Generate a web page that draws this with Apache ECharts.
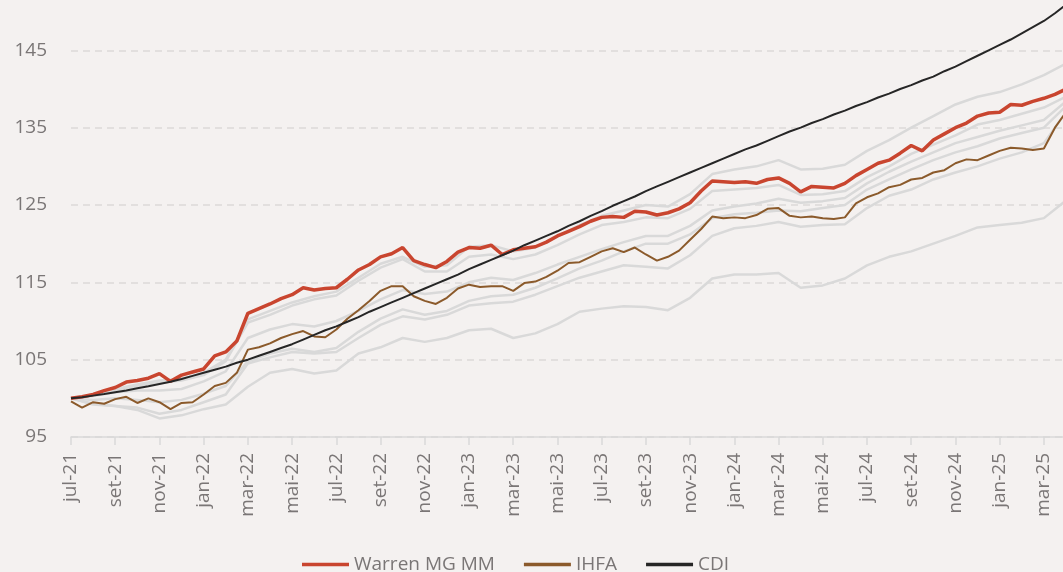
<!DOCTYPE html>
<html>
<head>
<meta charset="utf-8">
<script src="https://cdn.jsdelivr.net/npm/echarts@6/dist/echarts.min.js"></script>
<style>
  html, body { margin: 0; padding: 0; background: #f4f1f0; }
  #chart { width: 1063px; height: 572px; }
</style>
</head>
<body>
<div id="chart"></div>
<script>
// x axis: half-month steps from jul-21, labelled every 2 months
var tickLabels = ['jul-21', 'set-21', 'nov-21', 'jan-22', 'mar-22', 'mai-22', 'jul-22', 'set-22', 'nov-22',
    'jan-23', 'mar-23', 'mai-23', 'jul-23', 'set-23', 'nov-23', 'jan-24', 'mar-24', 'mai-24', 'jul-24',
    'set-24', 'nov-24', 'jan-25', 'mar-25'];

var categories = [];
for (var i = 0; i <= 90; i++) {
    var m = 6 + Math.floor(i / 2);
    var y = 2021 + Math.floor(m / 12);
    var mm = (m % 12) + 1;
    categories.push(y + '-' + (mm < 10 ? '0' : '') + mm + (i % 2 ? '-16' : '-01'));
}

var warren = [100.0, 100.2, 100.5, 101.0, 101.4, 102.1, 102.3, 102.6, 103.2, 102.2,
    103.0, 103.4, 103.8, 105.5, 106.0, 107.4, 111.0, 111.6, 112.2, 112.9,
    113.4, 114.3, 114.0, 114.2, 114.3, 115.4, 116.6, 117.3, 118.3, 118.7,
    119.5, 117.8, 117.3, 116.9, 117.7, 118.9, 119.5, 119.4, 119.8, 118.6,
    119.2, 119.4, 119.6, 120.2, 121.0, 121.6, 122.2, 122.9, 123.4, 123.5,
    123.4, 124.2, 124.1, 123.7, 124.0, 124.5, 125.3, 126.8, 128.1, 128.0,
    127.9, 128.0, 127.8, 128.3, 128.5, 127.8, 126.7, 127.4, 127.3, 127.2,
    127.8, 128.8, 129.6, 130.4, 130.8, 131.7, 132.7, 132.0, 133.4, 134.2,
    135.0, 135.6, 136.5, 136.9, 137.0, 138.0, 137.9, 138.4, 138.8, 139.3,
    140.0];

var ihfa = [99.6, 98.8, 99.5, 99.3, 99.9, 100.2, 99.4, 100.0, 99.5, 98.6,
    99.4, 99.5, 100.5, 101.6, 102.0, 103.3, 106.3, 106.6, 107.1, 107.8,
    108.3, 108.7, 108.0, 107.9, 108.9, 110.3, 111.4, 112.6, 113.9, 114.5,
    114.5, 113.2, 112.6, 112.2, 113.0, 114.2, 114.7, 114.4, 114.5, 114.5,
    113.9, 114.9, 115.1, 115.7, 116.5, 117.5, 117.6, 118.3, 119.0, 119.4,
    118.9, 119.5, 118.6, 117.8, 118.3, 119.1, 120.5, 121.9, 123.5, 123.3,
    123.4, 123.3, 123.7, 124.5, 124.6, 123.6, 123.4, 123.5, 123.3, 123.2,
    123.4, 125.2, 126.0, 126.5, 127.3, 127.6, 128.3, 128.5, 129.2, 129.5,
    130.4, 130.9, 130.8, 131.4, 132.0, 132.4, 132.3, 132.1, 132.3, 135.0,
    137.0];

var cdi = [100.0, 100.15, 100.35, 100.55, 100.8, 101.0, 101.3, 101.55, 101.85, 102.15,
    102.5, 102.9, 103.3, 103.7, 104.1, 104.6, 105.0, 105.5, 106.0, 106.5,
    107.0, 107.6, 108.2, 108.8, 109.3, 109.9, 110.5, 111.2, 111.8, 112.4,
    113.0, 113.6, 114.2, 114.8, 115.4, 116.0, 116.7, 117.3, 117.9, 118.5,
    119.1, 119.8, 120.4, 121.0, 121.6, 122.3, 122.9, 123.6, 124.2, 124.9,
    125.5, 126.1, 126.8, 127.4, 128.0, 128.6, 129.2, 129.8, 130.4, 131.0,
    131.6, 132.2, 132.7, 133.3, 133.9, 134.5, 135.0, 135.6, 136.1, 136.7,
    137.2, 137.8, 138.3, 138.9, 139.4, 140.0, 140.5, 141.1, 141.6, 142.3,
    142.9, 143.6, 144.3, 145.0, 145.7, 146.4, 147.2, 148.0, 148.8, 149.8,
    150.9];

// peer funds, one value per month (every second category)
var peer1 = [100.0, 99.3, 99.0, 98.5, 97.4, 97.8, 98.6, 99.2, 101.5, 103.3,
    103.8, 103.2, 103.6, 105.8, 106.6, 107.8, 107.3, 107.8, 108.8, 109.0,
    107.8, 108.4, 109.6, 111.2, 111.6, 111.9, 111.8, 111.4, 113.0, 115.5,
    116.0, 116.0, 116.2, 114.3, 114.6, 115.5, 117.2, 118.3, 119.0, 120.0,
    121.0, 122.1, 122.4, 122.7, 123.3, 125.6];
var peer2 = [100.0, 99.2, 99.0, 98.8, 98.0, 98.5, 99.5, 100.5, 104.5, 105.3,
    106.0, 105.8, 106.0, 107.8, 109.5, 110.6, 110.2, 110.8, 112.0, 112.3,
    112.5, 113.4, 114.5, 115.6, 116.4, 117.2, 117.0, 116.8, 118.5, 121.0,
    122.0, 122.3, 122.8, 122.2, 122.4, 122.5, 124.6, 126.2, 127.0, 128.3,
    129.2, 130.0, 131.0, 131.8, 133.0, 137.0];
var peer3 = [100.0, 99.8, 100.0, 99.8, 99.5, 99.8, 100.6, 101.6, 104.8, 105.8,
    106.4, 106.0, 106.5, 108.6, 110.3, 111.5, 110.8, 111.3, 112.6, 113.2,
    113.4, 114.3, 115.5, 116.8, 117.8, 119.0, 120.0, 120.0, 121.2, 123.3,
    123.8, 124.0, 124.3, 124.2, 124.6, 125.0, 127.0, 128.3, 129.6, 130.8,
    131.8, 132.6, 133.6, 134.3, 135.0, 137.8];
var peer4 = [100.0, 100.3, 100.8, 101.0, 101.0, 101.2, 102.2, 103.5, 107.8, 108.9,
    109.6, 109.3, 110.0, 111.3, 112.8, 114.0, 113.5, 113.8, 115.0, 115.6,
    115.3, 116.2, 117.3, 118.3, 119.3, 120.2, 121.0, 121.0, 122.3, 124.3,
    124.8, 125.2, 125.8, 125.3, 125.5, 125.9, 127.8, 129.3, 130.6, 131.8,
    133.0, 133.8, 134.6, 135.3, 136.0, 138.4];
var peer5 = [100.0, 100.4, 101.0, 101.6, 102.0, 102.3, 103.0, 104.8, 109.8, 110.8,
    112.0, 112.8, 113.3, 115.2, 116.9, 118.0, 116.4, 116.4, 118.3, 118.6,
    118.0, 118.6, 119.8, 121.2, 122.4, 122.8, 123.4, 123.3, 124.5, 126.8,
    127.0, 127.2, 127.6, 126.3, 126.4, 126.8, 128.6, 130.0, 131.6, 132.8,
    134.0, 135.4, 136.0, 136.8, 137.6, 139.0];
var peer6 = [100.0, 100.5, 101.2, 101.8, 102.3, 102.5, 103.3, 105.0, 110.2, 111.3,
    112.4, 113.2, 113.8, 115.6, 117.4, 118.3, 117.0, 117.2, 119.6, 119.8,
    119.0, 119.5, 120.9, 122.4, 123.6, 124.3, 125.0, 124.8, 126.4, 129.0,
    129.6, 130.0, 130.8, 129.6, 129.7, 130.2, 132.0, 133.4, 135.0, 136.5,
    138.0, 139.0, 139.6, 140.6, 141.8, 143.3];

var peers = [peer1, peer2, peer3, peer4, peer5, peer6];

var fontName = 'Open Sans';
var textColor = '#7a7676';

var series = peers.map(function (p) {
    return {
        type: 'line',
        symbol: 'none',
        silent: true,
        lineStyle: { color: '#d9d9d9', width: 2.5 },
        data: p.map(function (v, k) { return [2 * k, v]; })
    };
});
series.push(
    {
        name: 'Warren MG MM',
        type: 'line',
        symbol: 'none',
        lineStyle: { color: '#c9452f', width: 3.5 },
        itemStyle: { color: '#c9452f' },
        data: warren
    },
    {
        name: 'IHFA',
        type: 'line',
        symbol: 'none',
        lineStyle: { color: '#8b5a2b', width: 2 },
        itemStyle: { color: '#8b5a2b' },
        data: ihfa
    },
    {
        name: 'CDI',
        type: 'line',
        symbol: 'none',
        lineStyle: { color: '#262626', width: 2 },
        itemStyle: { color: '#262626' },
        data: cdi
    }
);

var myChart = echarts.init(document.getElementById('chart'));
var option = {
    backgroundColor: '#f4f1f0',
    animation: false,
    grid: {
        left: 71,
        right: -3,
        top: -27,
        bottom: 135,
        containLabel: false,
        outerBoundsMode: 'none'
    },
    legend: {
        data: [
            { name: 'Warren MG MM', icon: 'rect' },
            { name: 'IHFA', icon: 'rect' },
            { name: 'CDI', icon: 'rect' }
        ],
        left: 297,
        top: 550,
        itemWidth: 47,
        itemHeight: 3.5,
        itemGap: 29,
        textStyle: { color: textColor, fontFamily: fontName, fontSize: 19 }
    },
    xAxis: {
        type: 'category',
        boundaryGap: false,
        data: categories,
        axisLine: { lineStyle: { color: '#d9d9d9', width: 1.5 } },
        axisTick: { interval: 3, length: 8, lineStyle: { color: '#d9d9d9', width: 1.5 } },
        axisLabel: {
            interval: 3,
            rotate: 90,
            margin: 16,
            color: textColor,
            fontFamily: fontName,
            fontSize: 19,
            formatter: function (val, idx) { return tickLabels[idx / 4]; }
        }
    },
    yAxis: {
        type: 'value',
        min: 95,
        max: 155,
        interval: 10,
        axisLine: { show: false },
        axisTick: { show: false },
        axisLabel: { margin: 24, color: textColor, fontFamily: fontName, fontSize: 19 },
        splitLine: { lineStyle: { color: '#dcd9d8', width: 1.5, type: [7, 5] } }
    },
    series: series
};
myChart.setOption(option);
</script>
</body>
</html>
